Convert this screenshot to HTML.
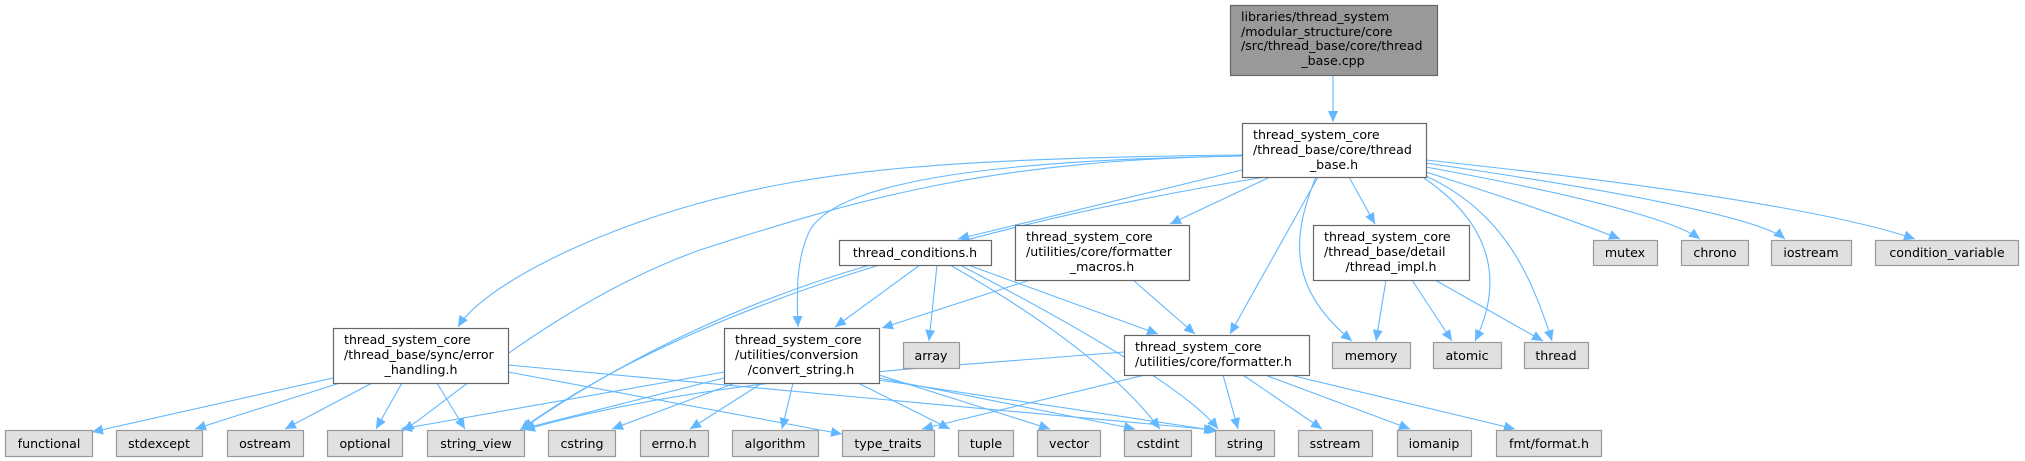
<!DOCTYPE html>
<html><head><meta charset="utf-8"><style>
html,body{margin:0;padding:0;background:#fff;}
svg{display:block;}
text{font-family:"DejaVu Sans","Liberation Sans",sans-serif;font-size:12.6px;fill:#000;}
.e{fill:none;stroke:#63b8ff;stroke-width:1.1;marker-end:url(#a);}
.n{fill:#fff;stroke:#666;stroke-width:1.2;}
.g{fill:#e0e0e0;stroke:#999;stroke-width:1.2;}
</style></head><body>
<svg width="2025" height="461" viewBox="0 0 2025 461" xmlns="http://www.w3.org/2000/svg">
<defs><marker id="a" markerUnits="userSpaceOnUse" markerWidth="12" markerHeight="10" refX="11" refY="5" orient="auto"><path d="M0,0 L11,5 L0,10 z" fill="#63b8ff"/></marker></defs>
<g>
<path class="e" d="M1333,75 L1333,122"/>
<path class="e" d="M1242,155 C950,158 820,170 700,203 C580,236 480,290 458,327"/>
<path class="e" d="M1242,156 C1000,160 870,195 700,250 C560,300 450,400 403,431"/>
<path class="e" d="M1242,156 C1000,160 840,180 810,230 C795,260 797,300 798,327"/>
<path class="e" d="M1265,177 C1000,220 700,300 520,430"/>
<path class="e" d="M1242,170 L958,239"/>
<path class="e" d="M1270,177 L1170,224"/>
<path class="e" d="M1318,177 L1230,334"/>
<path class="e" d="M1316,177 C1290,240 1290,290 1352,341"/>
<path class="e" d="M1349,177 L1375,224"/>
<path class="e" d="M1424,178 C1500,230 1500,290 1475,341"/>
<path class="e" d="M1426,176 C1500,210 1530,270 1552,341"/>
<path class="e" d="M1426,172 Q1560,215 1620,239"/>
<path class="e" d="M1426,167 Q1660,210 1700,239"/>
<path class="e" d="M1426,163 Q1750,210 1785,239"/>
<path class="e" d="M1426,160 Q1800,200 1915,239"/>
<path class="e" d="M920,265 L835,327"/>
<path class="e" d="M937,265 L929,341"/>
<path class="e" d="M950,265 Q1100,350 1160,429"/>
<path class="e" d="M960,265 Q1180,380 1218,429"/>
<path class="e" d="M968,265 L1158,334"/>
<path class="e" d="M870,265 Q680,320 522,429"/>
<path class="e" d="M1030,280 L882,328"/>
<path class="e" d="M1133,280 L1195,334"/>
<path class="e" d="M724,372 L401,429"/>
<path class="e" d="M724,378 L522,429"/>
<path class="e" d="M735,383 L612,429"/>
<path class="e" d="M762,383 L690,429"/>
<path class="e" d="M793,383 L782,429"/>
<path class="e" d="M858,383 L950,429"/>
<path class="e" d="M879,375 L1050,429"/>
<path class="e" d="M879,378 L1135,429"/>
<path class="e" d="M879,380 L1218,431"/>
<path class="e" d="M1124,352 C900,370 700,380 524,430"/>
<path class="e" d="M1145,375 L922,429"/>
<path class="e" d="M1223,375 L1238,429"/>
<path class="e" d="M1243,375 L1322,429"/>
<path class="e" d="M1265,375 L1410,429"/>
<path class="e" d="M1290,375 L1515,429"/>
<path class="e" d="M333,378 L92,432"/>
<path class="e" d="M340,383 L195,429"/>
<path class="e" d="M372,383 L285,429"/>
<path class="e" d="M402,383 L376,429"/>
<path class="e" d="M437,383 L465,429"/>
<path class="e" d="M508,372 L842,434"/>
<path class="e" d="M508,365 L1215,430"/>
<path class="e" d="M1386,280 L1376,341"/>
<path class="e" d="M1412,280 L1452,341"/>
<path class="e" d="M1435,280 L1543,341"/>
</g>
<g>
<rect x="1230.5" y="5.5" width="207" height="70" fill="#999" stroke="#666" stroke-width="1.2"/>
<text x="1241" y="21">libraries/thread_system</text>
<text x="1241" y="36">/modular_structure/core</text>
<text x="1241" y="50">/src/thread_base/core/thread</text>
<text x="1333" y="65" text-anchor="middle">_base.cpp</text>

<rect class="n" x="1242.5" y="123.5" width="184" height="54"/>
<text x="1253" y="139">thread_system_core</text>
<text x="1253" y="154">/thread_base/core/thread</text>
<text x="1334" y="169" text-anchor="middle">_base.h</text>

<rect class="n" x="333.5" y="328.5" width="175" height="55"/>
<text x="344" y="344">thread_system_core</text>
<text x="344" y="359">/thread_base/sync/error</text>
<text x="421" y="374" text-anchor="middle">_handling.h</text>

<rect class="n" x="839.5" y="240.5" width="152" height="25"/>
<text x="915" y="257" text-anchor="middle">thread_conditions.h</text>

<rect class="n" x="724.5" y="328.5" width="155" height="55"/>
<text x="735" y="344">thread_system_core</text>
<text x="735" y="359">/utilities/conversion</text>
<text x="801" y="374" text-anchor="middle">/convert_string.h</text>

<rect class="n" x="1015.5" y="225.5" width="174" height="55"/>
<text x="1026" y="241">thread_system_core</text>
<text x="1026" y="256">/utilities/core/formatter</text>
<text x="1102" y="271" text-anchor="middle">_macros.h</text>

<rect class="n" x="1124.5" y="335.5" width="185" height="40"/>
<text x="1135" y="351">thread_system_core</text>
<text x="1135" y="366">/utilities/core/formatter.h</text>

<rect class="n" x="1313.5" y="225.5" width="156" height="55"/>
<text x="1324" y="241">thread_system_core</text>
<text x="1324" y="256">/thread_base/detail</text>
<text x="1391" y="271" text-anchor="middle">/thread_impl.h</text>
</g>
<g>
<rect class="g" x="903.5" y="342.5" width="56" height="26"/><text x="931" y="360" text-anchor="middle">array</text>
<rect class="g" x="1332.5" y="342.5" width="78" height="26"/><text x="1371" y="360" text-anchor="middle">memory</text>
<rect class="g" x="1433.5" y="342.5" width="68" height="26"/><text x="1467" y="360" text-anchor="middle">atomic</text>
<rect class="g" x="1524.5" y="342.5" width="64" height="26"/><text x="1556" y="360" text-anchor="middle">thread</text>
<rect class="g" x="1593.5" y="240.5" width="64" height="25"/><text x="1625" y="257" text-anchor="middle">mutex</text>
<rect class="g" x="1681.5" y="240.5" width="67" height="25"/><text x="1715" y="257" text-anchor="middle">chrono</text>
<rect class="g" x="1771.5" y="240.5" width="80" height="25"/><text x="1811" y="257" text-anchor="middle">iostream</text>
<rect class="g" x="1875.5" y="240.5" width="143" height="25"/><text x="1947" y="257" text-anchor="middle">condition_variable</text>

<rect class="g" x="5.5" y="430.5" width="87" height="26"/><text x="49" y="448" text-anchor="middle">functional</text>
<rect class="g" x="116.5" y="430.5" width="86" height="26"/><text x="159" y="448" text-anchor="middle">stdexcept</text>
<rect class="g" x="227.5" y="430.5" width="76" height="26"/><text x="265" y="448" text-anchor="middle">ostream</text>
<rect class="g" x="327.5" y="430.5" width="75" height="26"/><text x="365" y="448" text-anchor="middle">optional</text>
<rect class="g" x="427.5" y="430.5" width="97" height="26"/><text x="476" y="448" text-anchor="middle">string_view</text>
<rect class="g" x="548.5" y="430.5" width="67" height="26"/><text x="582" y="448" text-anchor="middle">cstring</text>
<rect class="g" x="640.5" y="430.5" width="68" height="26"/><text x="674" y="448" text-anchor="middle">errno.h</text>
<rect class="g" x="732.5" y="430.5" width="86" height="26"/><text x="775" y="448" text-anchor="middle">algorithm</text>
<rect class="g" x="842.5" y="430.5" width="92" height="26"/><text x="888" y="448" text-anchor="middle">type_traits</text>
<rect class="g" x="958.5" y="430.5" width="55" height="26"/><text x="986" y="448" text-anchor="middle">tuple</text>
<rect class="g" x="1037.5" y="430.5" width="63" height="26"/><text x="1069" y="448" text-anchor="middle">vector</text>
<rect class="g" x="1124.5" y="430.5" width="67" height="26"/><text x="1158" y="448" text-anchor="middle">cstdint</text>
<rect class="g" x="1215.5" y="430.5" width="59" height="26"/><text x="1245" y="448" text-anchor="middle">string</text>
<rect class="g" x="1298.5" y="430.5" width="74" height="26"/><text x="1335" y="448" text-anchor="middle">sstream</text>
<rect class="g" x="1397.5" y="430.5" width="74" height="26"/><text x="1434" y="448" text-anchor="middle">iomanip</text>
<rect class="g" x="1496.5" y="430.5" width="105" height="26"/><text x="1549" y="448" text-anchor="middle">fmt/format.h</text>
</g>
</svg>
</body></html>
